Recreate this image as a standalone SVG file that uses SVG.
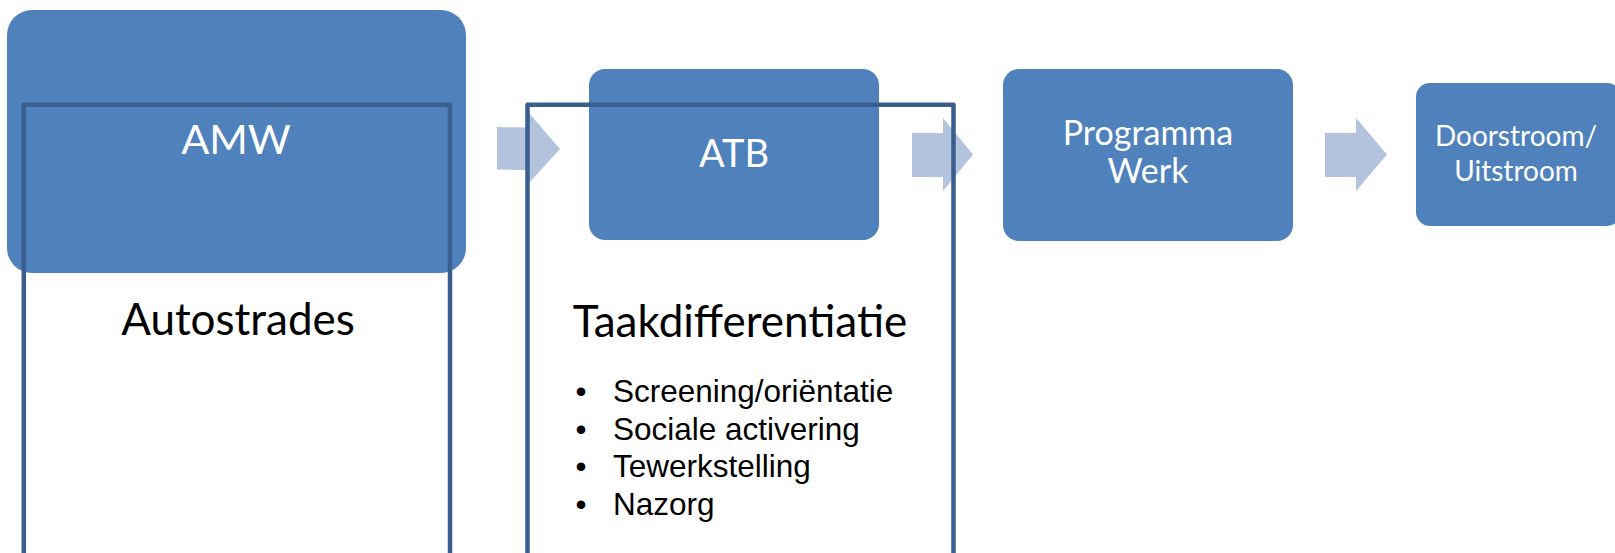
<svg xmlns="http://www.w3.org/2000/svg" width="1615" height="553" viewBox="0 0 1615 553">
  <style>
    .box { fill: #4F81BD; }
    .arrow { fill: #B3C2DD; }
    .frame { fill: none; stroke: #3A5F8E; stroke-width: 4.5; stroke-linejoin: round; }
    .wt { fill: #FFFFFF; font-family: Lato, "Noto Sans", sans-serif; text-anchor: middle; }
    .bt { fill: #000000; font-family: Lato, "Noto Sans", sans-serif; text-anchor: middle; font-size: 44px; }
    .li { fill: #000000; font-family: "Liberation Sans", Arial, sans-serif; font-size: 31.5px; }
  </style>
  <rect width="1615" height="553" fill="#FFFFFF"/>

  <g id="node-amw">
    <rect class="box" x="7" y="10" width="459" height="263" rx="25" ry="25"/>
    <text class="wt" x="236" y="154" font-size="41.5">AMW</text>
  </g>

  <g id="node-atb">
    <rect class="box" x="589" y="69" width="290" height="171" rx="16" ry="16"/>
    <text class="wt" x="734" y="167" font-size="38">ATB</text>
  </g>

  <g id="node-programma">
    <rect class="box" x="1003" y="69" width="290" height="172" rx="16" ry="16"/>
    <text class="wt" x="1148" y="145" font-size="34">Programma</text>
    <text class="wt" x="1148" y="183" font-size="34">Werk</text>
  </g>

  <g id="node-doorstroom">
    <rect class="box" x="1416" y="83" width="205" height="143" rx="14" ry="14"/>
    <text class="wt" x="1516" y="146" font-size="28">Doorstroom/</text>
    <text class="wt" x="1516" y="181" font-size="28">Uitstroom</text>
  </g>

  <g id="connectors">
    <polygon class="arrow" points="497,127 529,127.5 529,113 560,149 529,183 529,170 497,169.5"/>
    <polygon class="arrow" points="912,133 943,133 943,118 973,154.5 943,191 943,177 912,177"/>
    <polygon class="arrow" points="1325,133 1356,133 1356,118 1387,154.5 1356,191 1356,177 1325,177"/>
  </g>

  <g id="node-autostrades">
    <polyline class="frame" points="23.8,560 23.8,104.8 450,104.8 450,560"/>
    <text class="bt" x="238" y="335">Autostrades</text>
  </g>

  <g id="node-taakdifferentiatie">
    <polyline class="frame" points="527.5,560 527.5,104.8 953.5,104.8 953.5,560"/>
    <text class="bt" x="740" y="337">Taakdifferentiatie</text>
    <g class="li">
      <text x="581" y="402" text-anchor="middle">•</text>
      <text x="613" y="402">Screening/oriëntatie</text>
      <text x="581" y="439.5" text-anchor="middle">•</text>
      <text x="613" y="439.5">Sociale activering</text>
      <text x="581" y="477" text-anchor="middle">•</text>
      <text x="613" y="477">Tewerkstelling</text>
      <text x="581" y="514.5" text-anchor="middle">•</text>
      <text x="613" y="514.5">Nazorg</text>
    </g>
  </g>
</svg>
